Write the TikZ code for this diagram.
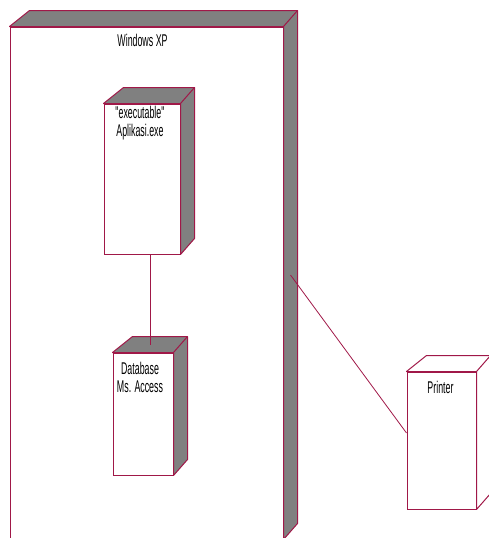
\documentclass[tikz,border=0pt]{standalone}
\usepackage{fontspec}
\usetikzlibrary{calc}
\newfontfamily\umlfont[FakeStretch=0.52]{Liberation Sans}
\definecolor{umlline}{RGB}{160,24,72}
\definecolor{umlgray}{RGB}{128,128,128}
\tikzset{
  umlface/.style={draw=umlline, fill=white, line width=1pt, inner sep=0pt},
  umltext/.style={font=\umlfont\fontsize{17}{18}\selectfont, align=center, inner sep=0pt, anchor=north},
  umllink/.style={draw=umlline, line width=0.8pt}
}
% top and side of a node box
\newcommand\umldepth[2]{%
  \filldraw[umlline, fill=#2, line width=1pt, line join=round]
    (#1.north west) -- ++(20,-16) -- ($(#1.north east)+(14,-16)$)
    -- ($(#1.south east)+(14,-16)$) -- (#1.south east) -- (#1.north east) -- cycle;
  \draw[umlline, line width=1pt] (#1.north east) -- ++(14,-16);
}

\begin{document}
\begin{tikzpicture}[x=1pt,y=-1pt]
\clip (0,0) rectangle (489,538);
% nodes
\node[umlface, minimum width=273pt, minimum height=512pt] (winxp) at (146.5,283) {};
\node[umlface, minimum width=76pt, minimum height=150pt] (exec) at (142,179) {};
\node[umlface, minimum width=60pt, minimum height=122pt] (db) at (143,414) {};
\node[umlface, minimum width=69pt, minimum height=137pt] (printer) at (441.5,440.5) {};
\umldepth{winxp}{umlgray}
\umldepth{exec}{umlgray}
\umldepth{db}{umlgray}
\umldepth{printer}{white}
% labels
\node[umltext] (winxplabel) at ([xshift=-4pt,yshift=-7pt]winxp.north) {Windows XP};
\node[umltext] (execlabel) at ([xshift=-2pt,yshift=-2pt]exec.north) {"executable"\\Aplikasi.exe};
\node[umltext] (dblabel) at ([xshift=-3pt,yshift=-9pt]db.north) {Database\\Ms. Access};
\node[umltext] (printerlabel) at ([xshift=-1pt,yshift=-9pt]printer.north) {Printer};
% links
\coordinate (execlink) at ([xshift=8pt]exec.south);
\coordinate (dblink) at ([xshift=7pt,yshift=8pt]db.north);
\coordinate (xplink) at ([xshift=7pt,yshift=8pt]winxp.east);
\coordinate (printerlink) at ([yshift=7.5pt]printer.west);
\draw[umllink] (execlink) -- (dblink);
\draw[umllink] (xplink) -- (printerlink);
\end{tikzpicture}
\end{document}
